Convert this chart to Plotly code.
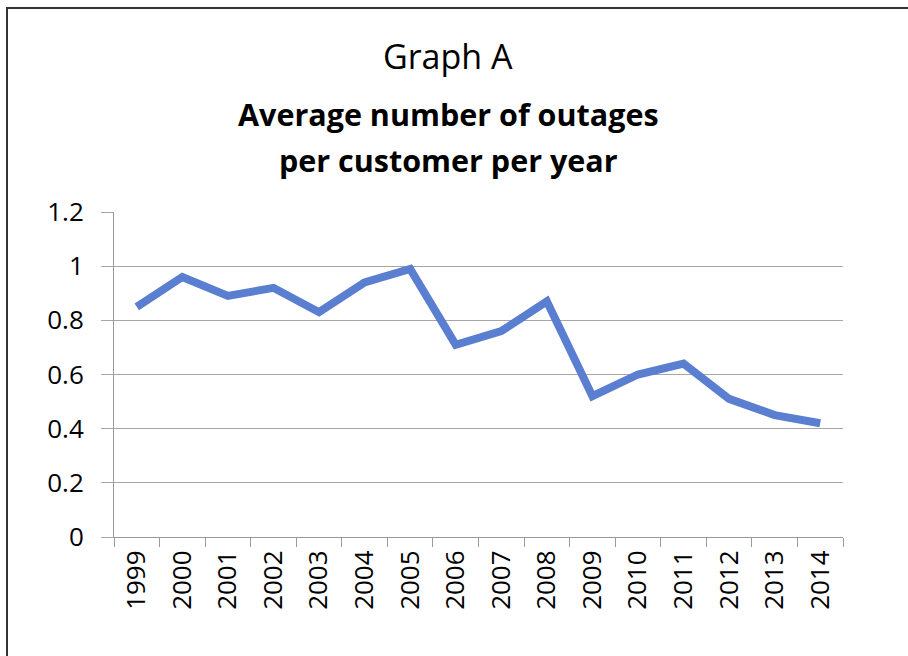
import plotly.graph_objects as go

years = ["1999", "2000", "2001", "2002", "2003", "2004", "2005", "2006",
         "2007", "2008", "2009", "2010", "2011", "2012", "2013", "2014"]
outages = [0.85, 0.96, 0.89, 0.92, 0.83, 0.94, 0.99, 0.71,
           0.76, 0.87, 0.52, 0.60, 0.64, 0.51, 0.45, 0.42]
y_ticks = [0, 0.2, 0.4, 0.6, 0.8, 1.0, 1.2]
y_tick_text = ["0", "0.2", "0.4", "0.6", "0.8", "1", "1.2"]

W, H = 908, 656
L, R, T, B = 114, 65, 212, 119
pw, ph = W - L - R, H - T - B

def px(x):
    return (x - L) / pw

def py(y):
    return (H - B - y) / ph

FONT = "Open Sans, Noto Sans, sans-serif"

fig = go.Figure()
fig.add_trace(go.Scatter(
    x=years, y=outages, mode="lines",
    line=dict(color="#5A7ED0", width=8),
    hoverinfo="x+y",
))

fig.update_layout(
    width=W, height=H,
    margin=dict(l=L, r=R, t=T, b=B),
    paper_bgcolor="white", plot_bgcolor="white",
    showlegend=False,
    font=dict(family=FONT, color="#000000"),
    xaxis=dict(
        type="category", tickson="boundaries",
        ticks="outside", ticklen=9, tickcolor="#9A9A9A", tickwidth=1,
        showline=True, linecolor="#9A9A9A", linewidth=1,
        showgrid=False, tickangle=-90,
        ticklabelstandoff=2,
        tickfont=dict(family=FONT, size=26, color="#000"),
        range=[-0.5, 15.5],
    ),
    yaxis=dict(
        range=[0, 1.2], tickvals=y_ticks, ticktext=y_tick_text,
        showgrid=True, gridcolor="#A6A6A6", gridwidth=1,
        zeroline=False, showline=True, linecolor="#9A9A9A", linewidth=1,
        ticks="outside", ticklen=12, tickcolor="#A6A6A6",
        ticklabelstandoff=12,
        tickfont=dict(family=FONT, size=26, color="#000"),
    ),
    annotations=[
        dict(text="Graph A", x=px(448), y=py(56), xref="paper", yref="paper",
             showarrow=False, xanchor="center", yanchor="middle",
             font=dict(size=34, family=FONT, color="#000")),
        dict(text="<b>Average number of outages</b>", x=px(448), y=py(114), xref="paper", yref="paper",
             showarrow=False, xanchor="center", yanchor="middle",
             font=dict(size=30.5, family=FONT, color="#000")),
        dict(text="<b>per customer per year</b>", x=px(448), y=py(160), xref="paper", yref="paper",
             showarrow=False, xanchor="center", yanchor="middle",
             font=dict(size=30.5, family=FONT, color="#000")),
    ],
    shapes=[
        dict(type="rect", xref="paper", yref="paper",
             x0=px(7), x1=px(940), y0=py(690), y1=py(8),
             line=dict(color="#333333", width=2), fillcolor="rgba(0,0,0,0)", layer="below"),
    ],
)

fig.write_html("out.html", config={"displayModeBar": False},
               post_script="document.body.style.margin='0';document.body.style.overflow='hidden';")
